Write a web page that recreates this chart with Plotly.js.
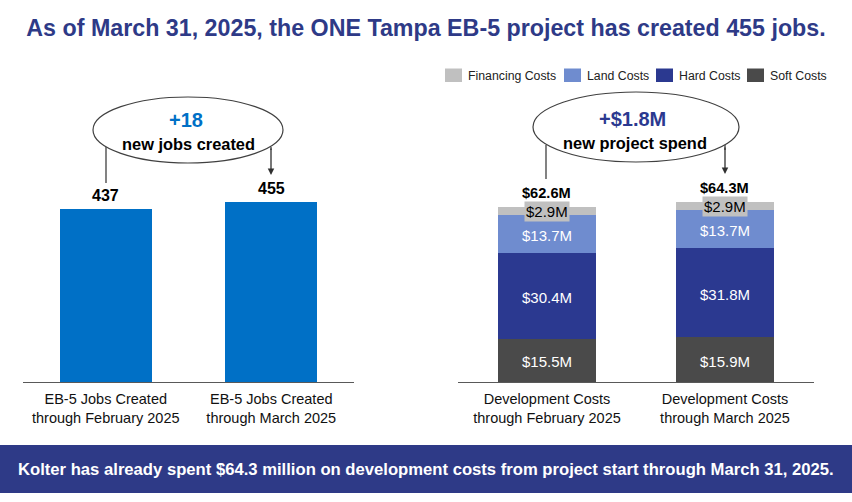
<!DOCTYPE html>
<html>
<head>
<meta charset="utf-8">
<script src="https://cdn.plot.ly/plotly-3.0.1.min.js"></script>
<style>html,body{margin:0;padding:0;background:#fff}#c{width:852px;height:502px}</style>
</head>
<body>
<div id="c"></div>
<script>
const W = 852, H = 502;
const FONT = '"Liberation Sans", Arial, sans-serif';

const titleText = 'As of March 31, 2025, the ONE Tampa EB-5 project has created 455 jobs.';
const bannerText = 'Kolter has already spent $64.3 million on development costs from project start through March 31, 2025.';

const jobCategories = ['EB-5 Jobs Created<br>through February 2025', 'EB-5 Jobs Created<br>through March 2025'];
const jobValues = [437, 455];

const costCategories = ['Development Costs<br>through February 2025', 'Development Costs<br>through March 2025'];
const softCosts = [15.5, 15.9];
const hardCosts = [30.4, 31.8];
const landCosts = [13.7, 13.7];
const financingCosts = [2.9, 2.9];
const costTotals = [62.6, 64.3];

const C_JOBS = '#0070c6', C_SOFT = '#4a4a4a', C_HARD = '#2b3990', C_LAND = '#6f8ccf', C_FIN = '#c0c0c0';
const C_NAVY = '#2e3a87', C_LINE = '#404040';

const px = x => x / W;
const py = y => 1 - y / H;
const money = v => '$' + v.toFixed(1) + 'M';

function costTrace(name, values, color) {
  return {
    type: 'bar', name, x: costCategories, y: values, xaxis: 'x2', yaxis: 'y2',
    marker: { color }, width: 0.556, showlegend: false, hoverinfo: 'skip'
  };
}

const traces = [
  {
    type: 'bar', name: 'EB-5 Jobs', x: jobCategories, y: jobValues, xaxis: 'x', yaxis: 'y',
    marker: { color: C_JOBS }, width: 0.556, showlegend: false, hoverinfo: 'skip'
  },
  costTrace('Soft Costs', softCosts, C_SOFT),
  costTrace('Hard Costs', hardCosts, C_HARD),
  costTrace('Land Costs', landCosts, C_LAND),
  costTrace('Financing Costs', financingCosts, C_FIN)
];

const paperText = (text, x, y, size, color, bold, anchor) => ({
  text: bold ? '<b>' + text + '</b>' : text,
  xref: 'paper', yref: 'paper', x: px(x), y: py(y),
  xanchor: anchor || 'center', yanchor: 'middle', showarrow: false,
  font: { family: FONT, size, color }
});

const annotations = [
  paperText(bannerText, 426, 469, 16.65, '#ffffff', true),
  paperText('+18', 185.5, 120, 20, C_JOBS, true),
  paperText('new jobs created', 188, 144, 16.4, '#000000', true),
  paperText('+$1.8M', 632, 119, 20, C_HARD, true),
  paperText('new project spend', 635, 143, 16.4, '#000000', true)
];

jobCategories.forEach((c, i) => annotations.push({
  text: '<b>' + jobValues[i] + '</b>', xref: 'x', yref: 'y', x: c, y: jobValues[i],
  yanchor: 'middle', yshift: 13, showarrow: false,
  font: { family: FONT, size: 16, color: '#000000' }
}));

costCategories.forEach((c, i) => {
  const stack = softCosts[i] + hardCosts[i] + landCosts[i] + financingCosts[i];
  annotations.push({
    text: '<b>' + money(costTotals[i]) + '</b>', xref: 'x2', yref: 'y2', x: c, y: costTotals[i],
    xshift: -0.5, yanchor: 'middle', yshift: 14, showarrow: false,
    font: { family: FONT, size: 14.6, color: '#000000' }
  });
  annotations.push({
    text: money(financingCosts[i]), xref: 'x2', yref: 'y2', x: c, y: stack - financingCosts[i] / 2,
    xshift: -0.5, yanchor: 'middle', showarrow: false, bgcolor: C_FIN, borderpad: 1,
    font: { family: FONT, size: 15, color: '#000000' }
  });
  let base = 0;
  [softCosts, hardCosts, landCosts].forEach(series => {
    annotations.push({
      text: money(series[i]), xref: 'x2', yref: 'y2', x: c, y: base + series[i] / 2,
      xshift: -0.5, yshift: -1.5, yanchor: 'middle', showarrow: false,
      font: { family: FONT, size: 15, color: '#ffffff' }
    });
    base += series[i];
  });
});

[[271, 175], [725, 174]].forEach(([x, y]) => annotations.push({
  text: '', xref: 'paper', yref: 'paper', x: px(x), y: py(y),
  axref: 'pixel', ayref: 'pixel', ax: 0, ay: -28, showarrow: true,
  arrowhead: 2, arrowsize: 1, arrowwidth: 1.3, arrowcolor: '#303030'
}));

const rect = (x0, y0, x1, y1, color) => ({
  type: 'rect', xref: 'paper', yref: 'paper', x0: px(x0), x1: px(x1), y0: py(y0), y1: py(y1),
  fillcolor: color, line: { width: 0 }, layer: 'above'
});
const segment = (x0, y0, x1, y1) => ({
  type: 'line', xref: 'paper', yref: 'paper', x0: px(x0), x1: px(x1), y0: py(y0), y1: py(y1),
  line: { color: C_LINE, width: 1.3 }, layer: 'above'
});
const ellipse = (x0, y0, x1, y1) => ({
  type: 'circle', xref: 'paper', yref: 'paper', x0: px(x0), x1: px(x1), y0: py(y0), y1: py(y1),
  fillcolor: '#ffffff', line: { color: C_LINE, width: 1.2 }, layer: 'above'
});

const shapes = [
  rect(0, 445, 852, 493, C_NAVY),
  segment(106, 147, 106, 183),
  segment(271, 147, 271, 150),
  segment(546, 145, 546, 179),
  segment(725, 145, 725, 150),
  ellipse(93, 97, 283, 163),
  ellipse(533, 92, 739, 162)
];

// Legend row, drawn in the reference's order and spacing
const legendItems = [
  ['Financing Costs', C_FIN, 445],
  ['Land Costs', C_LAND, 564],
  ['Hard Costs', C_HARD, 656],
  ['Soft Costs', C_SOFT, 747]
];
legendItems.forEach(([name, color, x]) => {
  shapes.push(rect(x, 68.5, x + 17, 82, color));
  annotations.push(paperText(name, x + 20.5, 76, 12.3, '#222222', false, 'left'));
});

const xBase = {
  type: 'category', showline: true, linecolor: '#595959', linewidth: 1, ticks: '',
  showgrid: false, zeroline: false, fixedrange: true, ticklabelstandoff: 4,
  tickfont: { family: FONT, size: 14.5, color: '#111111' }
};
const yBase = {
  visible: false, showgrid: false, zeroline: false, fixedrange: true,
  domain: [py(382), py(82)]
};

const layout = {
  width: W, height: H, margin: { l: 0, r: 0, t: 0, b: 0 },
  paper_bgcolor: '#ffffff', plot_bgcolor: '#ffffff', showlegend: false,
  barmode: 'stack', bargap: 0.444,
  font: { family: FONT },
  title: {
    text: '<b>' + titleText + '</b>', x: 0.5, xanchor: 'center', y: py(28), yanchor: 'middle',
    font: { family: FONT, size: 23.25, color: C_NAVY }
  },
  xaxis: Object.assign({}, xBase, { domain: [px(23), px(354)], anchor: 'y', range: [-0.5, 1.5] }),
  yaxis: Object.assign({}, yBase, { anchor: 'x', range: [0, 300 / 0.396] }),
  xaxis2: Object.assign({}, xBase, { domain: [px(458), px(814)], anchor: 'y2', range: [-0.5, 1.5] }),
  yaxis2: Object.assign({}, yBase, { anchor: 'x2', range: [0, 300 / 2.8] }),
  shapes, annotations
};

Plotly.newPlot('c', traces, layout, { displayModeBar: false, staticPlot: true });
</script>
</body>
</html>
